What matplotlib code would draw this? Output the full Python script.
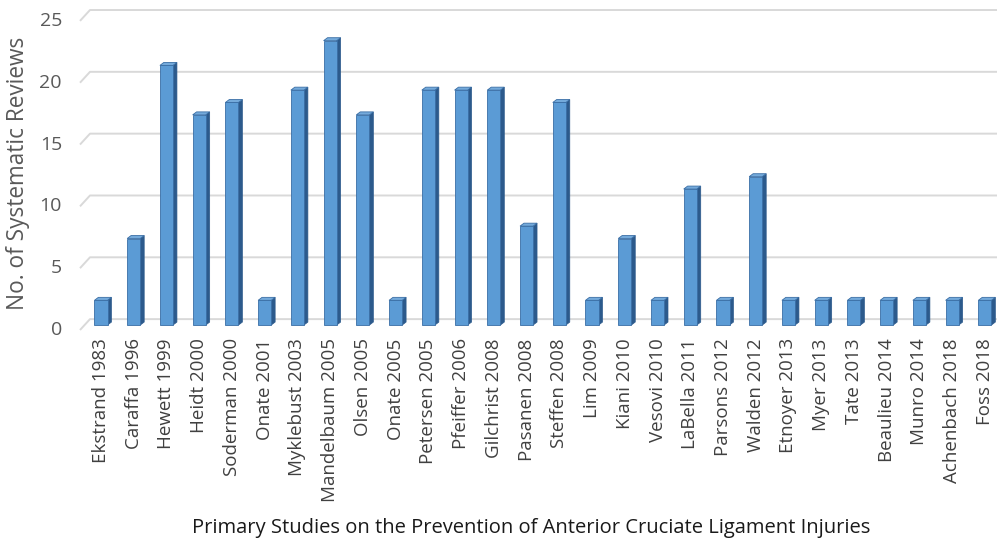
import matplotlib
matplotlib.use("Agg")
import matplotlib.pyplot as plt
from matplotlib.patches import Rectangle, Polygon
from matplotlib.transforms import ScaledTranslation

studies = ["Ekstrand 1983", "Caraffa 1996", "Hewett 1999", "Heidt 2000", "Soderman 2000",
           "Onate 2001", "Myklebust 2003", "Mandelbaum 2005", "Olsen 2005", "Onate 2005",
           "Petersen 2005", "Pfeiffer 2006", "Gilchrist 2008", "Pasanen 2008", "Steffen 2008",
           "Lim 2009", "Kiani 2010", "Vesovi 2010", "LaBella 2011", "Parsons 2012",
           "Walden 2012", "Etnoyer 2013", "Myer 2013", "Tate 2013", "Beaulieu 2014",
           "Munro 2014", "Achenbach 2018", "Foss 2018"]
reviews = [2, 7, 21, 17, 18, 2, 19, 23, 17, 2, 19, 19, 19, 8, 18, 2, 7, 2, 11, 2,
           12, 2, 2, 2, 2, 2, 2, 2]
yticks = [0, 5, 10, 15, 20, 25]

plt.rcParams['font.family'] = ['Open Sans', 'DejaVu Sans']

W, H = 997, 539
fig = plt.figure(figsize=(W / 100, H / 100), dpi=100)
left, right, bottom, top = 80, 997, 330, 11
ax = fig.add_axes([left / W, 1 - bottom / H, (right - left) / W, (bottom - top) / H])
ax.set_xlim(-0.641, 27.37)
ax.set_ylim(-0.4, 25.4)
for s in ax.spines.values():
    s.set_visible(False)

# 3D geometry (data units)
bw = 0.40
ddx = 0.12
ddy = 0.24
back = 0.48
front = -0.4
xback = -0.336

grid_c = "#d9d9d9"
for g in yticks:
    ax.plot([-0.641, xback, 27.37], [g + front, g + back, g + back], color=grid_c,
            lw=1.4, zorder=1, clip_on=False, solid_capstyle="butt")

c_front = "#5b9bd5"
c_side = "#2c5a8c"
c_top = "#74aadb"
c_edge = "#3a6ea5"
for i, v in enumerate(reviews):
    x0 = i - bw / 2
    x1 = i + bw / 2
    ax.add_patch(Polygon([(x1, 0), (x1 + ddx, ddy), (x1 + ddx, v + ddy), (x1, v)],
                         closed=True, facecolor=c_side, edgecolor=c_side, lw=0.5, zorder=3))
    ax.add_patch(Polygon([(x0, v), (x1, v), (x1 + ddx, v + ddy), (x0 + ddx, v + ddy)],
                         closed=True, facecolor=c_top, edgecolor=c_edge, lw=0.6, zorder=3))
    ax.add_patch(Rectangle((x0, 0), bw, v, facecolor=c_front, edgecolor=c_edge,
                           lw=0.6, zorder=4))

ax.set_xticks(range(len(studies)))
ax.set_xticklabels(studies, rotation=90, fontsize=13.5, color="#404040", va="top")
ax.set_yticks(yticks)
ax.set_yticklabels([str(t) for t in yticks], fontsize=14, color="#595959")
ax.tick_params(axis="both", length=0)
ax.tick_params(axis="x", pad=6)
ax.tick_params(axis="y", pad=13)
for lab in ax.get_yticklabels():
    lab.set_transform(lab.get_transform() + ScaledTranslation(0, -3 / 100, fig.dpi_scale_trans))

fig.text(18 / W, 1 - 173 / H, "No. of Systematic Reviews", rotation=90, fontsize=16.3,
         color="#595959", ha="center", va="center")
fig.text(531 / W, 1 - 528 / H,
         "Primary Studies on the Prevention of Anterior Cruciate Ligament Injuries",
         fontsize=14.5, color="#1a1a1a", ha="center", va="center")

fig.savefig("out.png", dpi=100, facecolor="white")
